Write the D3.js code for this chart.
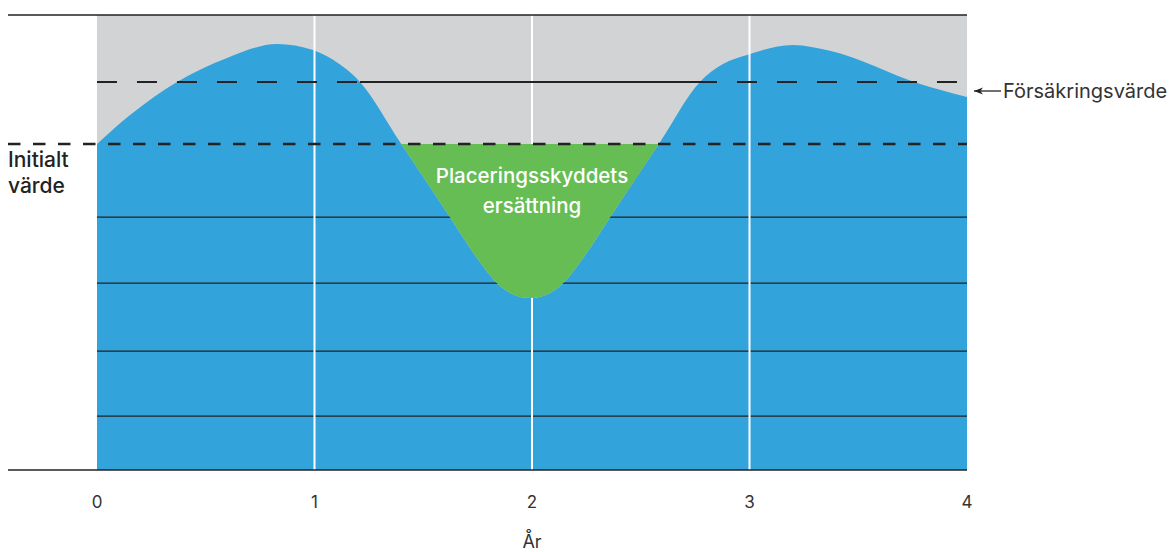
<!DOCTYPE html>
<html>
<head>
<meta charset="utf-8">
<script src="https://cdn.jsdelivr.net/npm/d3@7"></script>
<style>
    body { margin: 0; background: #fff; }
    svg { display: block; font-family: Inter, "Noto Sans", sans-serif; }
</style>
</head>
<body>
<div id="chart"></div>
<script>
// Years on the x axis and the value curve (initial value = 100)
const years = [0, 0.152, 0.368, 0.598, 0.828, 0.993, 1.085, 1.209, 1.393, 1.623, 1.770, 1.839, 1.899, 1.991, 2.083, 2.143, 2.212, 2.359, 2.589, 2.772, 2.878, 2.989, 3.2, 3.37, 3.784, 4];
const values = [100.3, 109.2, 119.4, 126.8, 131.1, 129.2, 126.2, 119.4, 100.9, 77.8, 63.1, 57.5, 54.5, 52.9, 54.5, 57.5, 63.1, 77.8, 100.9, 119.4, 124.9, 127.7, 130.8, 129.0, 118.8, 114.8];
const xTicks = [0, 1, 2, 3, 4];
const gridValues = [16.6, 36.6, 57.5, 77.8];
const initialValue = 100.3;
const insuranceValue = 119.4;

const width = 1171, height = 552;
const margin = { left: 97, right: 204, top: 15, bottom: 82 };

const svg = d3.select("#chart").append("svg")
    .attr("width", width)
    .attr("height", height);

const x = d3.scaleLinear().domain([0, 4]).range([margin.left, width - margin.right]);
const y = d3.scaleLinear().domain([0, 140]).range([height - margin.bottom, margin.top]);

const data = years.map((d, i) => ({ x: d, v: values[i] }));

// grey background of the plot
svg.append("rect")
    .attr("x", x(0)).attr("y", y(140))
    .attr("width", x(4) - x(0)).attr("height", y(0) - y(140))
    .attr("fill", "#d1d3d5");

const area = d3.area()
    .x(d => x(d.x))
    .y0(y(0))
    .y1(d => y(d.v))
    .curve(d3.curveMonotoneX);

svg.append("path")
    .datum(data)
    .attr("d", area)
    .attr("fill", "#33a3dc");

// thin horizontal lines
svg.append("g")
    .selectAll("line")
    .data(gridValues)
    .enter()
    .append("line")
    .attr("x1", x(0)).attr("x2", x(4))
    .attr("y1", d => y(d)).attr("y2", d => y(d))
    .attr("stroke", "#222")
    .attr("stroke-width", 1.3);

// white year lines
svg.append("g")
    .selectAll("line")
    .data(xTicks.slice(1, 4))
    .enter()
    .append("line")
    .attr("x1", d => x(d)).attr("x2", d => x(d))
    .attr("y1", y(140)).attr("y2", y(0))
    .attr("stroke", "#fff")
    .attr("stroke-width", 2);

// green compensation area below the initial value
svg.append("clipPath").attr("id", "belowInitial")
    .append("rect")
    .attr("x", x(0)).attr("y", y(initialValue))
    .attr("width", x(4) - x(0)).attr("height", y(0) - y(initialValue));

const greenArea = d3.area()
    .x(d => x(d.x))
    .y0(y(initialValue))
    .y1(d => y(d.v))
    .curve(d3.curveMonotoneX);

svg.append("path")
    .datum(data)
    .attr("d", greenArea)
    .attr("fill", "#66bd53")
    .attr("clip-path", "url(#belowInitial)");

// top and bottom frame lines
svg.append("line")
    .attr("x1", 8).attr("x2", x(4))
    .attr("y1", y(140)).attr("y2", y(140))
    .attr("stroke", "#222").attr("stroke-width", 1.3);
svg.append("line")
    .attr("x1", 8).attr("x2", x(4))
    .attr("y1", y(0)).attr("y2", y(0))
    .attr("stroke", "#222").attr("stroke-width", 1.3);

// insurance value: dashed, solid in the valley
svg.append("line")
    .attr("x1", x(0)).attr("x2", x(4))
    .attr("y1", y(insuranceValue)).attr("y2", y(insuranceValue))
    .attr("stroke", "#222").attr("stroke-width", 2)
    .attr("stroke-dasharray", "20,20");
svg.append("line")
    .attr("x1", x(1.209)).attr("x2", x(2.772))
    .attr("y1", y(insuranceValue)).attr("y2", y(insuranceValue))
    .attr("stroke", "#222").attr("stroke-width", 2);

// initial value dashed line
svg.append("line")
    .attr("x1", 8).attr("x2", x(4))
    .attr("y1", y(initialValue)).attr("y2", y(initialValue))
    .attr("stroke", "#222").attr("stroke-width", 2.6)
    .attr("stroke-dasharray", "12.5,12.5");

// x axis labels
svg.append("g")
    .selectAll("text")
    .data(xTicks)
    .enter()
    .append("text")
    .attr("x", d => x(d))
    .attr("y", 508)
    .attr("text-anchor", "middle")
    .attr("font-size", 17)
    .attr("fill", "#333")
    .text(d => d);

svg.append("text")
    .attr("x", x(2)).attr("y", 548)
    .attr("text-anchor", "middle")
    .attr("font-size", 18)
    .attr("fill", "#333")
    .text("År");

// labels
const initLabel = svg.append("text")
    .attr("font-size", 21)
    .attr("font-weight", 500)
    .attr("fill", "#222");
initLabel.append("tspan").attr("x", 8).attr("y", 167).text("Initialt");
initLabel.append("tspan").attr("x", 8).attr("y", 193).text("värde");

const greenLabel = svg.append("text")
    .attr("font-size", 20.5)
    .attr("font-weight", 500)
    .attr("fill", "#fff")
    .attr("text-anchor", "middle");
greenLabel.append("tspan").attr("x", x(2)).attr("y", 183).text("Placeringsskyddets");
greenLabel.append("tspan").attr("x", x(2)).attr("y", 213).text("ersättning");

// arrow to insurance value
svg.append("defs").append("marker")
    .attr("id", "arrow")
    .attr("viewBox", "0 -5 10 10")
    .attr("refX", 10).attr("refY", 0)
    .attr("markerWidth", 7).attr("markerHeight", 7)
    .attr("orient", "auto")
    .append("path")
    .attr("d", "M0,-4L10,0L0,4L3,0Z")
    .attr("fill", "#222");

svg.append("line")
    .attr("x1", 1001).attr("x2", 974)
    .attr("y1", 91).attr("y2", 91)
    .attr("stroke", "#222").attr("stroke-width", 1.3)
    .attr("marker-end", "url(#arrow)");

svg.append("text")
    .attr("x", 1003).attr("y", 98)
    .attr("font-size", 20)
    .attr("fill", "#333")
    .text("Försäkringsvärde");
</script>
</body>
</html>
